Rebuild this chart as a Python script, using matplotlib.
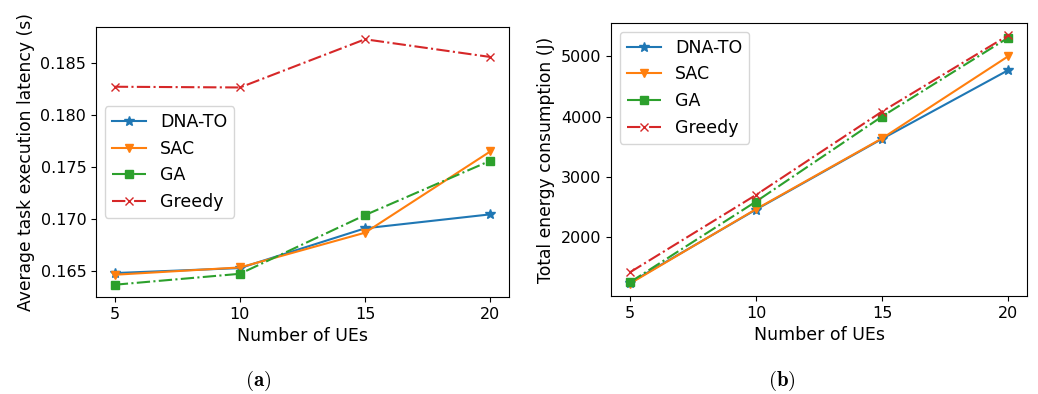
import matplotlib
matplotlib.use("Agg")
import matplotlib.pyplot as plt

ues = [5, 10, 15, 20]
xticks = [5, 10, 15, 20]

lat_dnato = [0.16478, 0.16526, 0.16908, 0.17042]
lat_sac = [0.16462, 0.16532, 0.16866, 0.17646]
lat_ga = [0.16366, 0.16471, 0.17035, 0.17557]
lat_greedy = [0.18268, 0.18261, 0.18724, 0.18554]

en_dnato = [1250, 2460, 3630, 4765]
en_sac = [1237, 2468, 3638, 4995]
en_ga = [1259, 2593, 4000, 5302]
en_greedy = [1423, 2703, 4082, 5341]

series_names = ["DNA-TO", "SAC", "GA", "Greedy"]
colors = ["#1f77b4", "#ff7f0e", "#2ca02c", "#d62728"]
markers = ["*", "v", "s", "x"]
styles = ["-", "-", "-.", "-."]

plt.rcParams['font.family'] = ['DejaVu Sans']
plt.rcParams['mathtext.fontset'] = 'cm'
fig = plt.figure(figsize=(10.38, 3.94), dpi=100)
ax1 = fig.add_axes([96/1038, 1-297/394, 413/1038, 270/394])
ax2 = fig.add_axes([611/1038, 1-296/394, 416/1038, 273/394])

for ax, data, ylabel, loc in [
    (ax1, [lat_dnato, lat_sac, lat_ga, lat_greedy], "Average task execution latency (s)", "center left"),
    (ax2, [en_dnato, en_sac, en_ga, en_greedy], "Total energy consumption (J)", "upper left"),
]:
    for name, vals, c, m, ls in zip(series_names, data, colors, markers, styles):
        ms = 7 if m == "*" else 6
        ax.plot(ues, vals, color=c, marker=m, linestyle=ls, linewidth=1.5, markersize=ms, label=name)
    ax.set_xticks(xticks)
    ax.tick_params(labelsize=11.5)
    ax.set_xlabel("Number of UEs", fontsize=12.5)
    ax.set_ylabel(ylabel, fontsize=12.3)
    ax.legend(loc=loc, fontsize=12.5)

ax1.set_yticks([0.165, 0.170, 0.175, 0.180, 0.185])
ax2.set_yticks([2000, 3000, 4000, 5000])

fig.text(258/1038, 1-381/394, r"$\mathbf{(a)}$", fontsize=15, ha="center", va="center")
fig.text(782/1038, 1-381/394, r"$\mathbf{(b)}$", fontsize=15, ha="center", va="center")

fig.savefig("out.png", dpi=100)
